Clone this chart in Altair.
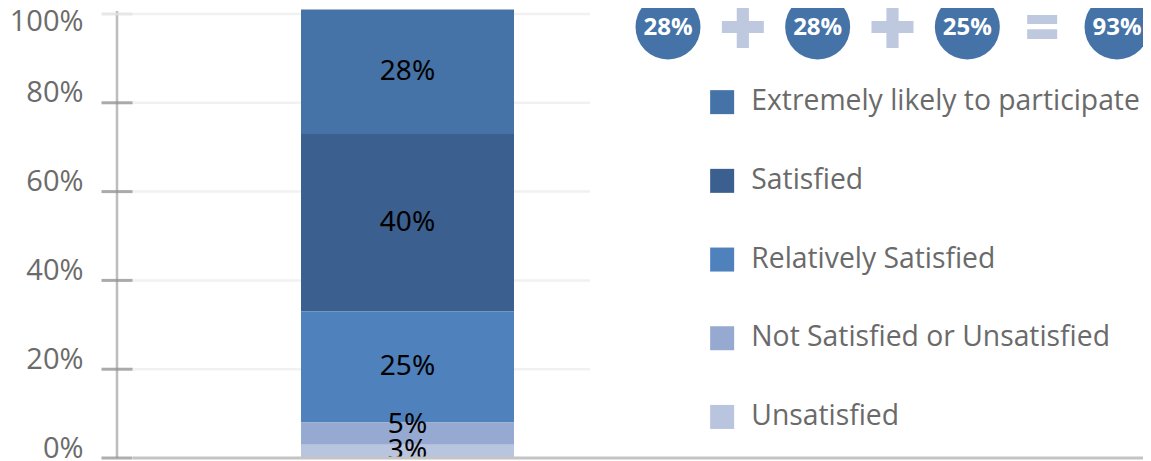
import altair as alt
import pandas as pd

# ---------------- data ----------------
categories = [
    "Extremely likely to participate",
    "Satisfied",
    "Relatively Satisfied",
    "Not Satisfied or Unsatisfied",
    "Unsatisfied",
]
values = [28, 40, 25, 5, 3]
stack_rank = [4, 3, 2, 1, 0]  # 0 = bottom of the stack
group = ["All"] * len(categories)

y_ticks = [0, 20, 40, 60, 80, 100]

badge_labels = ["28%", "28%", "25%", "93%"]
badge_slots = [0, 2, 4, 6]
plus_slots = [1, 3]
equals_slots = [5]

# ---------------- styles ----------------
colors = ["#4573A7", "#3B5F8E", "#4F81BD", "#95A9D1", "#B9C4DE"]
W, H = 488, 444

df = pd.DataFrame({
    "category": categories,
    "value": values,
    "rank": stack_rank,
    "group": group,
    "label": [f"{v}%" for v in values],
})
tick_df = pd.DataFrame({"v": y_ticks})
base_df = pd.DataFrame({"v": [0]})
badge_df = pd.DataFrame({"slot": badge_slots, "badge": badge_labels})
plus_df = pd.DataFrame({"slot": plus_slots})
eq_df = pd.DataFrame({"slot": equals_slots})

x_band = alt.X("group:N", scale=alt.Scale(range=[199, 412], paddingInner=0, paddingOuter=0), axis=None)
y_scale = alt.Scale(domain=[0, 100], nice=False)

y_axis = alt.Axis(
    values=y_ticks,
    labelExpr="datum.value + '%'",
    domain=False,
    ticks=False,
    tickSize=0,
    grid=False,
    labelFont="Open Sans",
    labelFontSize=29,
    labelColor="#6b6b6b",
    labelPadding=19,
    labelOffset={"condition": {"test": "datum.value >= 100", "value": 7}, "value": -10},
    title=None,
)

# light horizontal gridlines (drawn first, behind the bar)
gridlines = alt.Chart(tick_df).transform_filter("datum.v > 0").mark_rule(
    color="#f1f1f1", strokeWidth=2.5
).encode(
    y=alt.Y("v:Q", scale=y_scale, axis=y_axis),
    x=alt.value(0),
    x2=alt.value(W),
)

bars = alt.Chart(df).mark_bar().encode(
    x=x_band,
    y=alt.Y("value:Q", stack="zero", scale=y_scale, axis=y_axis),
    color=alt.Color(
        "category:N",
        scale=alt.Scale(domain=categories, range=colors),
        legend=alt.Legend(
            orient="none",
            legendX=606,
            legendY=74,
            title=None,
            symbolType="square",
            symbolSize=576,
            symbolStrokeWidth=0,
            symbolOpacity=1,
            labelFont="Open Sans",
            labelFontSize=28.3,
            labelColor="#6a6a6a",
            labelOffset=15,
            rowPadding=49.7,
            padding=0,
            labelLimit=600,
        ),
    ),
    order=alt.Order("rank:Q", sort="ascending"),
)

label_base = alt.Chart(df).transform_stack(
    stack="value",
    groupby=["group"],
    sort=[alt.SortField("rank", order="ascending")],
    as_=["v0", "v1"],
).transform_calculate(
    mid="(datum.v0 + datum.v1) / 2"
)
label_enc = dict(
    x=x_band,
    y=alt.Y("mid:Q", scale=y_scale, axis=y_axis),
    text="label:N",
)
labels_main = label_base.transform_filter("datum.value != 5").mark_text(
    font="Noto Sans", fontSize=28, color="#000000", baseline="middle"
).encode(**label_enc)
labels_small = label_base.transform_filter("datum.value == 5").mark_text(
    font="Noto Sans", fontSize=28, color="#000000", baseline="middle", dy=-9
).encode(**label_enc)

axis_line = alt.Chart(base_df).mark_rule(color="#bdbdbd", strokeWidth=2.5).encode(
    x=alt.value(15), y=alt.value(-3), y2=alt.value(H)
)

ticks = alt.Chart(tick_df).mark_tick(thickness=3, size=31, orient="horizontal").encode(
    y=alt.Y("v:Q", scale=y_scale, axis=y_axis),
    x=alt.value(15),
    color=alt.condition("datum.v >= 100", alt.value("#e2e2e2"), alt.value("#8c8c8c")),
)

baseline = alt.Chart(base_df).mark_rule(color="#c4c4c4", strokeWidth=3).encode(
    y=alt.Y("v:Q", scale=y_scale, axis=y_axis),
    x=alt.value(31),
    x2=alt.value(1060),
)

x_slots = alt.X("slot:Q", scale=alt.Scale(domain=[0, 6], range=[566, 1015], nice=False, zero=False), axis=None)

badges = alt.Chart(badge_df).mark_circle(size=65 ** 2, opacity=1, color="#4573A7").encode(
    x=x_slots, y=alt.value(13)
)
badge_text = alt.Chart(badge_df).mark_text(
    font="Open Sans", fontSize=24, fontWeight="bold", color="white", baseline="middle"
).encode(x=x_slots, y=alt.value(14), text="badge:N")

plus_path = "M-1,-0.29L1,-0.29L1,0.29L-1,0.29Z M-0.29,-1L0.29,-1L0.29,1L-0.29,1Z"
eq_path = "M-1,-0.8L1,-0.8L1,-0.2L-1,-0.2Z M-1,0.15L1,0.15L1,0.8L-1,0.8Z"

plus_marks = alt.Chart(plus_df).mark_point(
    shape=plus_path, size=42 ** 2, filled=True, opacity=1, color="#BEC9E0", strokeWidth=0
).encode(x=x_slots, y=alt.value(13))
eq_marks = alt.Chart(eq_df).mark_point(
    shape=eq_path, size=30 ** 2, filled=True, opacity=1, color="#BEC9E0", strokeWidth=0
).encode(x=x_slots, y=alt.value(13))

chart = alt.layer(
    gridlines, bars, labels_main, labels_small, axis_line, ticks, baseline,
    badges, badge_text, plus_marks, eq_marks
).resolve_scale(x="independent").properties(
    width=W,
    height=H,
    padding={"left": 94, "top": 6, "right": 553, "bottom": 3},
    autosize=alt.AutoSizeParams(type="none"),
).configure_view(stroke=None)

chart.save("out.html", embed_options={"renderer": "svg", "actions": False})
